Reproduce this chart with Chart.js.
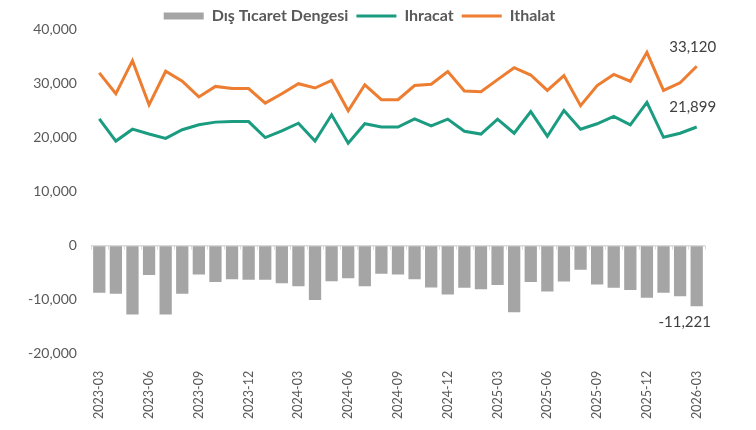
<!DOCTYPE html>
<html lang="tr">
<head>
<meta charset="utf-8">
<title>Dış Ticaret</title>
<script src="https://cdn.jsdelivr.net/npm/chart.js@4.4.1/dist/chart.umd.min.js"></script>
<style>
    html, body { margin: 0; padding: 0; background: #fff; }
    #wrap { width: 756px; height: 430px; position: relative; }
</style>
</head>
<body>
<div id="wrap"><canvas id="tradeChart"></canvas></div>
<script>
const months = [
    '2023-03', '2023-04', '2023-05', '2023-06', '2023-07', '2023-08', '2023-09', '2023-10', '2023-11', '2023-12',
    '2024-01', '2024-02', '2024-03', '2024-04', '2024-05', '2024-06', '2024-07', '2024-08', '2024-09', '2024-10',
    '2024-11', '2024-12', '2025-01', '2025-02', '2025-03', '2025-04', '2025-05', '2025-06', '2025-07', '2025-08',
    '2025-09', '2025-10', '2025-11', '2025-12', '2026-01', '2026-02', '2026-03'
];

const ihracat = [
    23400, 19300, 21500, 20600, 19800, 21400, 22300, 22800, 22900, 22900,
    19950, 21200, 22600, 19300, 24150, 18900, 22500, 21900, 21900, 23400,
    22100, 23350, 21100, 20600, 23350, 20750, 24750, 20200, 24950, 21500,
    22500, 23850, 22300, 26450, 20000, 20750, 21899
];

const ithalat = [
    31900, 28050, 34150, 26000, 32200, 30350, 27450, 29400, 29000, 29000,
    26300, 28050, 29900, 29100, 30500, 24900, 29700, 26950, 26950, 29550,
    29800, 32150, 28550, 28400, 30650, 32850, 31500, 28650, 31400, 25850,
    29550, 31600, 30350, 35700, 28650, 30050, 33120
];

const denge = [
    -8700, -8900, -12750, -5450, -12750, -8900, -5350, -6750, -6200, -6300,
    -6300, -6950, -7500, -10050, -6600, -6050, -7500, -5200, -5350, -6200,
    -7750, -9050, -7800, -8050, -7300, -12300, -6750, -8500, -6650, -4450,
    -7200, -7800, -8200, -9650, -8700, -9350, -11221
];

const yTicks = { min: -20000, max: 40000, step: 10000 };

const colors = {
    bar: '#a5a5a5',
    ihracat: '#1b9c80',
    ithalat: '#ed7d31',
    text: '#595959',
    label: '#404040',
    zero: '#d9d9d9'
};

const fontFamily = 'Lato, "Open Sans", sans-serif';

// legend box a bit shorter than Chart.js computes, so the plot starts higher
const legendFitPlugin = {
    id: 'legendFit',
    beforeLayout(chart) {
        const legend = chart.legend;
        if (!legend || legend._fitPatched) return;
        const fit = legend.fit;
        legend.fit = function() {
            fit.call(this);
            this.height -= 5;
        };
        legend._fitPatched = true;
    }
};

// small tick marks on the zero line + end labels
const extrasPlugin = {
    id: 'extras',
    beforeDatasetsDraw(chart) {
        const { ctx, scales: { x, y } } = chart;
        const y0 = y.getPixelForValue(0);
        ctx.save();
        ctx.strokeStyle = colors.zero;
        ctx.lineWidth = 1;
        ctx.beginPath();
        for (let i = 0; i <= months.length; i++) {
            let px;
            if (i === 0) px = x.left;
            else if (i === months.length) px = x.right;
            else px = (x.getPixelForValue(i - 1) + x.getPixelForValue(i)) / 2;
            px = Math.round(px) + 0.5;
            ctx.moveTo(px, y0);
            ctx.lineTo(px, y0 + 4);
        }
        ctx.stroke();
        ctx.restore();
    },
    afterDatasetsDraw(chart) {
        const { ctx } = chart;
        const last = months.length - 1;
        ctx.save();
        ctx.font = '15px ' + fontFamily;
        ctx.fillStyle = colors.label;
        ctx.textAlign = 'center';

        const pImp = chart.getDatasetMeta(2).data[last];
        const pExp = chart.getDatasetMeta(1).data[last];
        const bar = chart.getDatasetMeta(0).data[last];

        ctx.textBaseline = 'bottom';
        ctx.fillText(ithalat[last].toLocaleString('en-US'), pImp.x - 4, pImp.y - 12);
        ctx.fillText(ihracat[last].toLocaleString('en-US'), pExp.x - 4, pExp.y - 12);

        ctx.textBaseline = 'top';
        ctx.fillText(denge[last].toLocaleString('en-US'), bar.x - 12, bar.y + 8);
        ctx.restore();
    }
};

const ctx = document.getElementById('tradeChart').getContext('2d');
new Chart(ctx, {
    type: 'bar',
    data: {
        labels: months,
        datasets: [
            {
                type: 'bar',
                label: 'Dış Tıcaret Dengesi',
                data: denge,
                backgroundColor: colors.bar,
                borderWidth: 0,
                barPercentage: 0.74,
                categoryPercentage: 1,
                order: 3
            },
            {
                type: 'line',
                label: 'Ihracat',
                data: ihracat,
                borderColor: colors.ihracat,
                backgroundColor: colors.ihracat,
                borderWidth: 3,
                pointRadius: 0,
                tension: 0,
                order: 2
            },
            {
                type: 'line',
                label: 'Ithalat',
                data: ithalat,
                borderColor: colors.ithalat,
                backgroundColor: colors.ithalat,
                borderWidth: 3,
                pointRadius: 0,
                tension: 0,
                order: 1
            }
        ]
    },
    options: {
        responsive: true,
        maintainAspectRatio: false,
        animation: false,
        layout: { padding: { left: 14, right: 51, top: 0, bottom: 2 } },
        plugins: {
            tooltip: { enabled: false },
            legend: {
                position: 'top',
                labels: {
                    usePointStyle: true,
                    pointStyleWidth: 40,
                    boxHeight: 7,
                    padding: 8,
                    color: colors.text,
                    font: { family: fontFamily, size: 16, weight: 'bold' },
                    generateLabels(chart) {
                        const items = Chart.defaults.plugins.legend.labels.generateLabels(chart);
                        items.sort((a, b) => a.datasetIndex - b.datasetIndex);
                        items.forEach(it => {
                            it.pointStyle = it.datasetIndex === 0 ? 'rect' : 'line';
                        });
                        return items;
                    }
                }
            }
        },
        scales: {
            x: {
                offset: true,
                grid: { display: false },
                border: { display: false },
                ticks: {
                    autoSkip: false,
                    minRotation: 90,
                    maxRotation: 90,
                    padding: 9,
                    color: colors.text,
                    font: { family: fontFamily, size: 12.5 },
                    callback: function(val, index) {
                        return index % 3 === 0 ? this.getLabelForValue(val) : '';
                    }
                }
            },
            y: {
                min: yTicks.min,
                max: yTicks.max,
                border: { display: false },
                grid: {
                    drawTicks: false,
                    color: c => (c.tick && c.tick.value === 0 ? colors.zero : 'transparent'),
                    lineWidth: 1.5
                },
                ticks: {
                    stepSize: yTicks.step,
                    padding: 14,
                    color: colors.text,
                    font: { family: fontFamily, size: 14 },
                    callback: v => v.toLocaleString('en-US')
                }
            }
        }
    },
    plugins: [legendFitPlugin, extrasPlugin]
});
</script>
</body>
</html>
